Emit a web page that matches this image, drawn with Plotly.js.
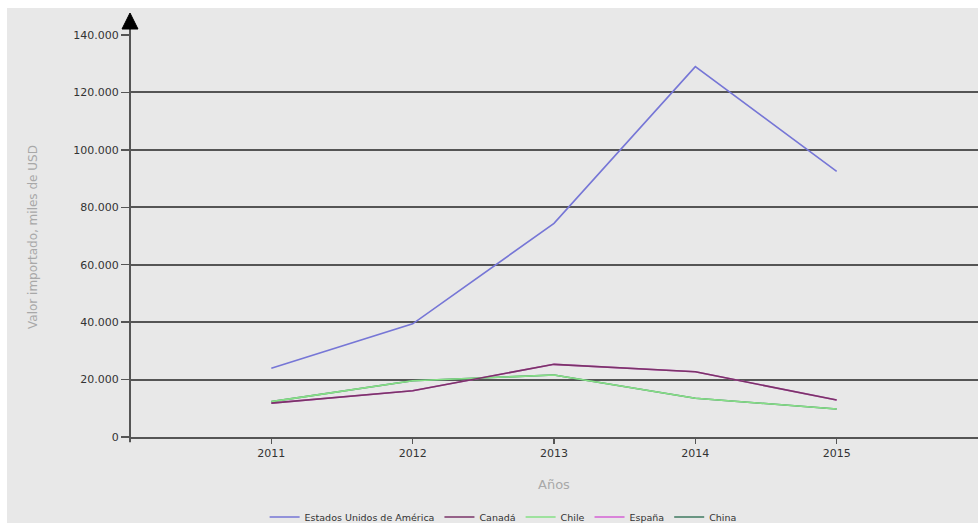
<!DOCTYPE html>
<html>
<head>
<meta charset="utf-8">
<script src="https://cdn.plot.ly/plotly-3.0.1.min.js"></script>
<style>
  html, body { margin: 0; padding: 0; background: #ffffff; }
  #chart { position: absolute; left: 7px; top: 8px; width: 971px; height: 515px; }
</style>
</head>
<body>
<div id="chart"></div>
<script>
// Años del eje X
const years = [2011, 2012, 2013, 2014, 2015];

// Valor importado por país de origen (miles de USD)
const estadosUnidos = [23900, 39400, 74400, 129000, 92500];
const canada        = [11800, 16100, 25300, 22700, 12900];
const chile         = [12300, 19600, 21600, 13500, 9750];
const espana        = [11800, 16100, 25300, 22700, 12900];
const china         = [12300, 19600, 21600, 13500, 9750];

const yTicks = [0, 20000, 40000, 60000, 80000, 100000, 120000, 140000];

const font = 'DejaVu Sans, Liberation Sans, Arial, sans-serif';

function serie(name, values, color) {
  return {
    type: 'scatter', mode: 'lines', name: name,
    x: years, y: values,
    line: { color: color, width: 1.6 },
    hoverinfo: 'x+y+name'
  };
}

// Se dibujan de abajo hacia arriba; la leyenda se muestra en orden inverso
const traces = [
  serie('China', china, '#3f7a60'),
  serie('España', espana, '#d462d4'),
  serie('Chile', chile, '#86e086'),
  serie('Canadá', canada, '#7a3468'),
  serie('Estados Unidos de América', estadosUnidos, '#7676d6')
];

const layout = {
  width: 971, height: 515,
  margin: { l: 123, r: 0, t: 27, b: 86, pad: 0, autoexpand: false },
  paper_bgcolor: '#e8e8e8',
  plot_bgcolor: '#e8e8e8',
  separators: ',.',
  font: { family: font, color: '#333333', size: 11 },
  showlegend: true,
  legend: {
    orientation: 'h', traceorder: 'reversed',
    x: 0.44, xanchor: 'center', xref: 'paper',
    y: -0.199, yanchor: 'middle', yref: 'paper',
    bgcolor: 'rgba(0,0,0,0)',
    font: { family: font, size: 9.5, color: '#333333' },
    itemwidth: 30
  },
  xaxis: {
    range: [2010, 2016],
    tickvals: years,
    ticktext: years.map(String),
    ticks: 'outside', ticklen: 5, tickwidth: 1.5, tickcolor: '#555555',
    tickfont: { family: font, size: 11, color: '#333333' },
    showgrid: false, zeroline: false,
    showline: true, linecolor: '#555555', linewidth: 2
  },
  yaxis: {
    range: [-10, 140010],
    tickvals: yTicks,
    tickformat: ',d',
    ticks: 'outside', ticklen: 8, tickwidth: 1.5, tickcolor: '#555555',
    tickfont: { family: font, size: 11, color: '#333333' },
    showgrid: true, gridcolor: '#555555', gridwidth: 2,
    zeroline: false, showline: false
  },
  shapes: [
    // Eje vertical con flecha
    { type: 'line', xref: 'paper', yref: 'paper', x0: 0, x1: 0, y0: -0.013, y1: 1.03,
      line: { color: '#555555', width: 2 } },
    { type: 'path', xref: 'paper', yref: 'paper',
      path: 'M -0.0094 1.0149 L 0.0094 1.0149 L 0 1.0547 Z',
      fillcolor: '#000000', line: { color: '#000000', width: 1 } }
  ],
  annotations: [
    { text: 'Valor importado, miles de USD', xref: 'paper', yref: 'paper',
      x: -0.1144, y: 0.4975, xanchor: 'center', yanchor: 'middle', textangle: -90,
      showarrow: false, font: { family: font, size: 12, color: '#a8a8a8' } },
    { text: 'Años', xref: 'paper', yref: 'paper',
      x: 0.5, y: -0.1194, xanchor: 'center', yanchor: 'middle',
      showarrow: false, font: { family: font, size: 13, color: '#a8a8a8' } }
  ]
};

Plotly.newPlot('chart', traces, layout, { displayModeBar: false, staticPlot: true });
</script>
</body>
</html>
